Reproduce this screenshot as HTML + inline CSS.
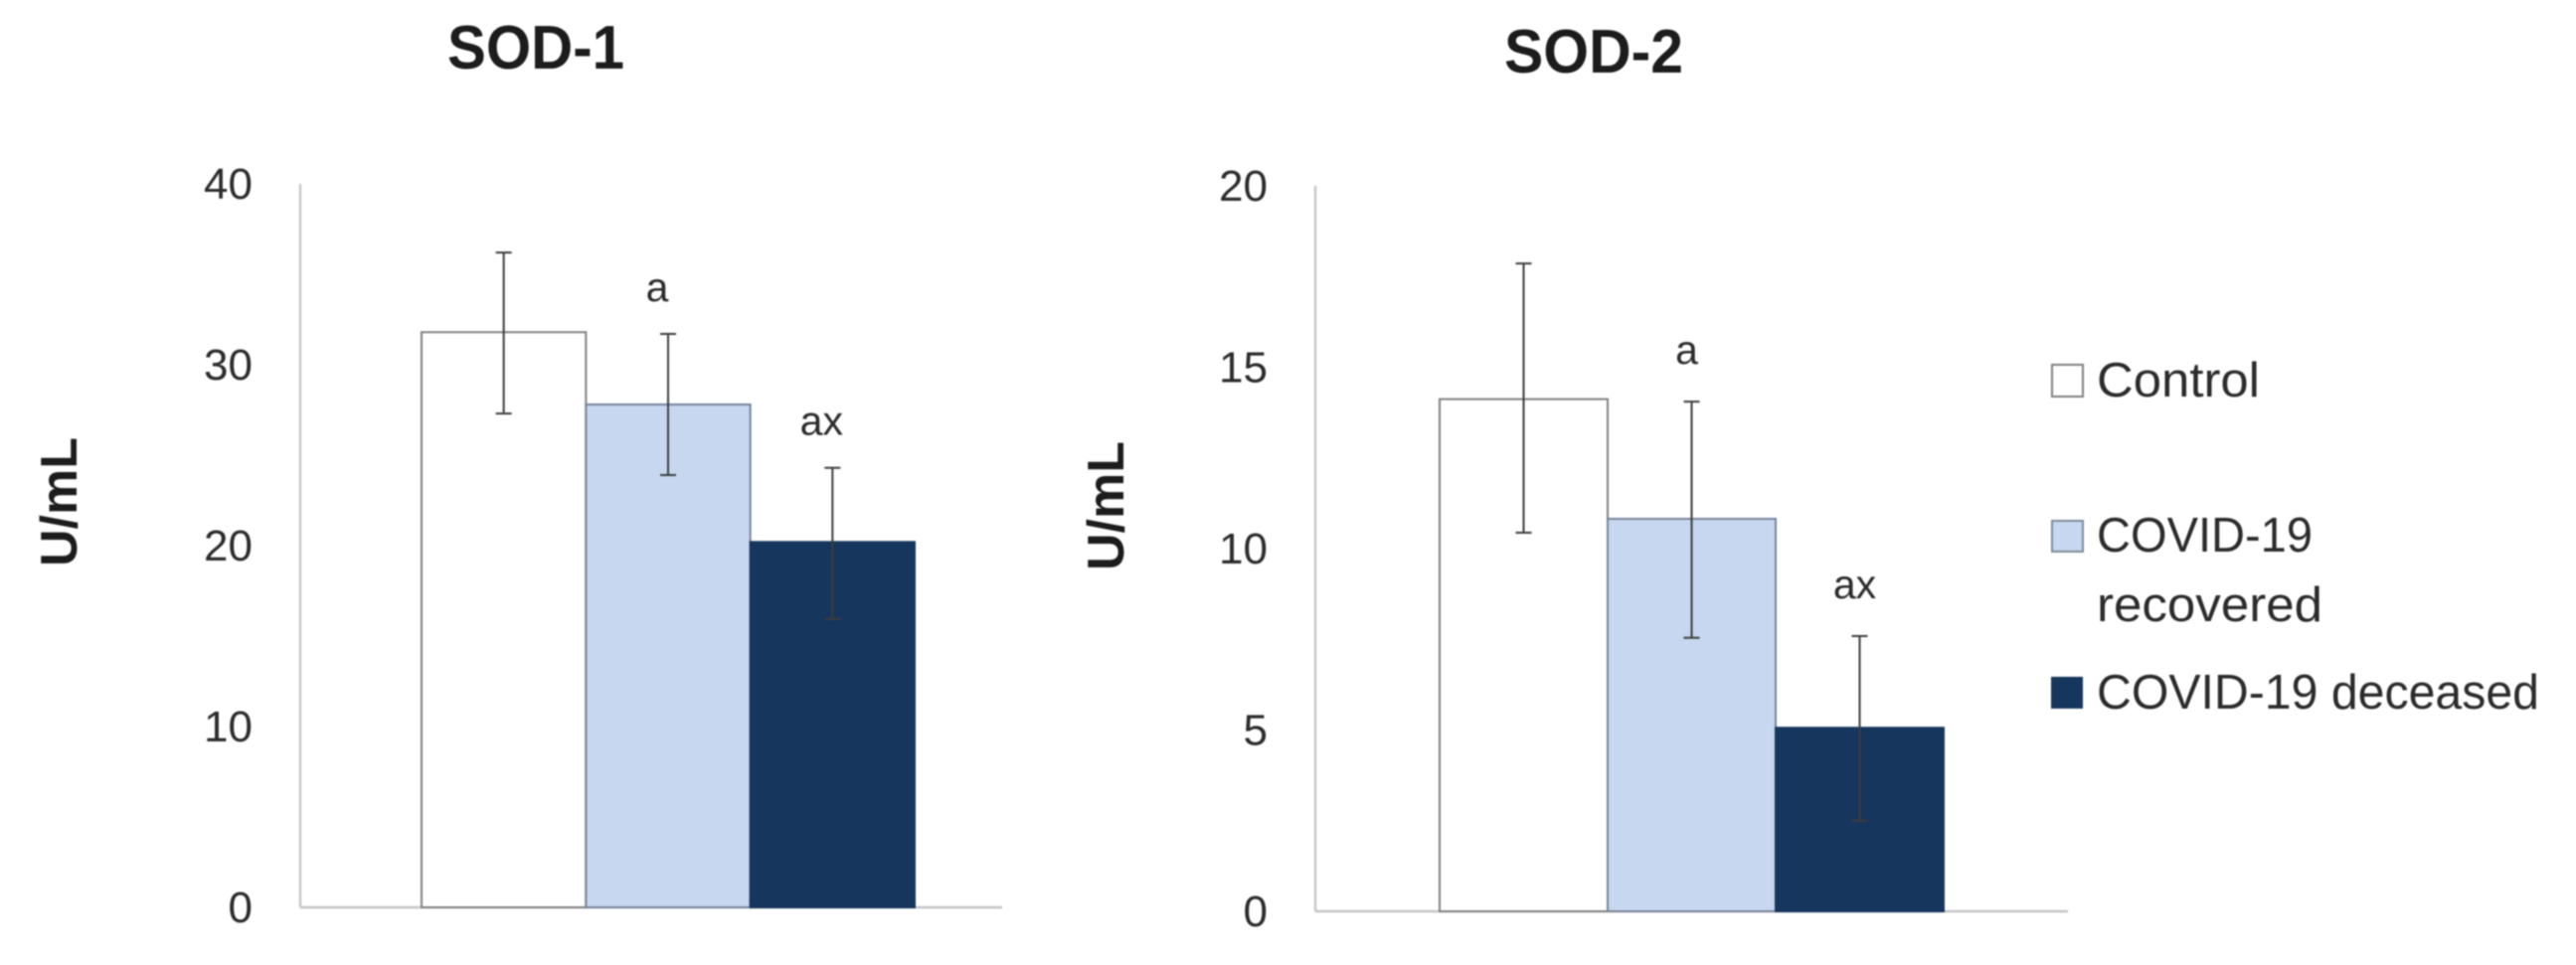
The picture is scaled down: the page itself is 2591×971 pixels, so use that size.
<!DOCTYPE html>
<html lang="en">
<head>
<meta charset="utf-8">
<title>SOD-1 and SOD-2 activity</title>
<style>
html,body{margin:0;padding:0;background:#fff;width:2591px;height:971px;overflow:hidden}
svg{display:block;filter:blur(0.7px)}
text{font-family:"Liberation Sans",sans-serif;fill:#2b2b2b}
.title,.ylabel{font-weight:bold;fill:#1c1c1c}
</style>
</head>
<body>
<svg id="chart" xmlns="http://www.w3.org/2000/svg" width="2591" height="971" viewBox="0 0 2591 971">
  <rect x="0" y="0" width="2591" height="971" fill="#ffffff"/>
  <g id="sod1"></g>
  <g id="sod2"></g>
  <g>
    <g>
      <rect x="2064" y="367" width="31" height="32" fill="#ffffff" stroke="#7f7f7f" stroke-width="2"/>
      <text x="2109" y="399" font-size="49" textLength="164" lengthAdjust="spacingAndGlyphs">Control</text>
    </g>
    <g>
      <rect x="2064" y="524" width="31" height="31" fill="#c6d7ef" stroke="#7f8a9a" stroke-width="2"/>
      <text x="2109" y="555" font-size="49" textLength="217" lengthAdjust="spacingAndGlyphs">COVID-19</text>
      <text x="2109" y="625" font-size="49" textLength="227" lengthAdjust="spacingAndGlyphs">recovered</text>
    </g>
    <g>
      <rect x="2063" y="681" width="32" height="32" fill="#17365d"/>
      <text x="2109" y="713" font-size="49" textLength="445" lengthAdjust="spacingAndGlyphs">COVID-19 deceased</text>
    </g>
  </g>
</svg>
<script>
// Chart data
var categories = ['control', 'recovered', 'deceased'];
var sod1Means = [31.8, 27.8, 20.2];
var sod1ErrorHigh = [36.2, 31.7, 24.3];
var sod1ErrorLow = [27.3, 23.9, 15.95];
var sod1Ticks = [0, 10, 20, 30, 40];
var sod1Marks = ['', 'a', 'ax'];
var sod2Means = [14.12, 10.82, 5.06];
var sod2ErrorHigh = [17.86, 14.05, 7.59];
var sod2ErrorLow = [10.44, 7.54, 2.5];
var sod2Ticks = [0, 5, 10, 15, 20];
var sod2Marks = ['', 'a', 'ax'];

var fills = {control: '#ffffff', recovered: '#c6d7ef', deceased: '#17365d'};
var strokes = {control: '#808080', recovered: '#76839a', deceased: '#17365d'};
var NS = 'http://www.w3.org/2000/svg';

function make(parent, tag, attrs, text) {
  var el = document.createElementNS(NS, tag);
  Object.keys(attrs).forEach(function (k) { el.setAttribute(k, attrs[k]); });
  if (text !== undefined) el.textContent = text;
  parent.appendChild(el);
  return el;
}

function drawPanel(cfg) {
  var g = document.getElementById(cfg.id);
  var maxTick = cfg.ticks[cfg.ticks.length - 1];
  function yScale(v) { return cfg.y0 - (v / maxTick) * (cfg.y0 - cfg.yTop); }
  function xBand(i) { return cfg.barsLeft + i * (cfg.barsRight - cfg.barsLeft) / categories.length; }
  var bandWidth = (cfg.barsRight - cfg.barsLeft) / categories.length;

  var title = make(g, 'text', {class: 'title', x: cfg.titleX, y: cfg.titleY, 'font-size': 62, textLength: cfg.titleW, lengthAdjust: 'spacingAndGlyphs'}, cfg.title);
  
  

  var ylabel = make(g, 'text', {class: 'ylabel', 'text-anchor': 'middle', 'font-size': 52, transform: 'translate(' + cfg.ylabelX + ' ' + cfg.ylabelY + ') rotate(-90)'}, 'U/mL');
  
  

  var yAxis = make(g, 'line', {x1: cfg.axisX, x2: cfg.axisX, y1: cfg.yTop, y2: cfg.y0, stroke: '#c9c9c9', 'stroke-width': 2.5});
  
  

  var xAxis = make(g, 'line', {x1: cfg.axisX, x2: cfg.axisEnd, y1: cfg.y0, y2: cfg.y0, stroke: '#c4c4c4', 'stroke-width': 2.5});
  
  

  cfg.ticks.forEach(function (t) {
    var label = make(g, 'text', {x: cfg.tickRight, y: yScale(t) + 15, 'text-anchor': 'end', 'font-size': 44}, String(t));
    
    
  });

  categories.forEach(function (cat, i) {
    var top = yScale(cfg.means[i]);
    var bar = make(g, 'rect', {x: xBand(i), y: top, width: bandWidth, height: cfg.y0 - top, fill: fills[cat], stroke: strokes[cat], 'stroke-width': 2});
    
    
  });

  categories.forEach(function (cat, i) {
    var cx = xBand(i) + bandWidth / 2;
    var hi = yScale(cfg.high[i]);
    var lo = yScale(cfg.low[i]);
    var err = make(g, 'path', {
      d: 'M' + cx + ' ' + hi + 'V' + lo + 'M' + (cx - 8) + ' ' + hi + 'H' + (cx + 8) + 'M' + (cx - 8) + ' ' + lo + 'H' + (cx + 8),
      fill: 'none', stroke: '#3c3c3c', 'stroke-width': 2
    });
    
    

    if (cfg.marks[i]) {
      var mark = make(g, 'text', {x: cx + cfg.markDx, y: hi - cfg.markDy, 'text-anchor': 'middle', 'font-size': 41}, cfg.marks[i]);
      
      
    }
  });
}

drawPanel({
  id: 'sod1', title: 'SOD-1', titleX: 450, titleY: 69, titleW: 178,
  ylabelX: 77, ylabelY: 505,
  axisX: 302, axisEnd: 1008, y0: 913, yTop: 185, tickRight: 254,
  barsLeft: 424, barsRight: 920, markDx: -11, markDy: 33,
  means: sod1Means, high: sod1ErrorHigh, low: sod1ErrorLow, ticks: sod1Ticks, marks: sod1Marks
});
drawPanel({
  id: 'sod2', title: 'SOD-2', titleX: 1513, titleY: 73, titleW: 180,
  ylabelX: 1130, ylabelY: 509,
  axisX: 1323, axisEnd: 2080, y0: 917, yTop: 187, tickRight: 1275,
  barsLeft: 1448, barsRight: 1955, markDx: -5, markDy: 38,
  means: sod2Means, high: sod2ErrorHigh, low: sod2ErrorLow, ticks: sod2Ticks, marks: sod2Marks
});
</script>
</body>
</html>
